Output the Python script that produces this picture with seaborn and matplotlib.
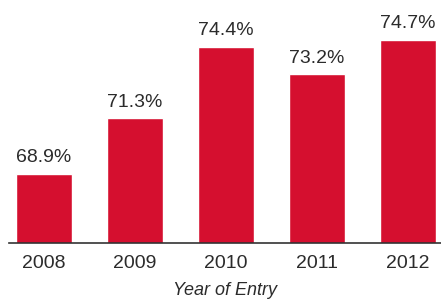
import matplotlib
matplotlib.use("Agg")
import matplotlib.pyplot as plt
import seaborn as sns
import pandas as pd

years = ["2008", "2009", "2010", "2011", "2012"]
rates = [68.9, 71.3, 74.4, 73.2, 74.7]
labels = ["68.9%", "71.3%", "74.4%", "73.2%", "74.7%"]

sns.set_style("white")
plt.rcParams['font.family'] = ['Liberation Sans', 'DejaVu Sans']

df = pd.DataFrame({"year": years, "rate": rates})

fig = plt.figure(figsize=(4.41, 2.99), dpi=100)
ax = fig.add_axes([9/441, 56/299, 432/441, 243/299])
sns.barplot(data=df, x="year", y="rate", color="#d50f2f", saturation=1,
            width=0.615, ax=ax)
for p, lab in zip(ax.patches, labels):
    ax.annotate(lab, (p.get_x() + p.get_width()/2, p.get_height()),
                xytext=(0, 5.5), textcoords="offset points", ha="center",
                va="bottom", fontsize=14, color="#2b2b2b")
ax.set_ylim(65.9, 65.9 + 243/23.1)
ax.set_xlim(-0.385, 4.363)
for s in ["top", "right", "left"]:
    ax.spines[s].set_visible(False)
ax.spines["bottom"].set_color("#333333")
ax.spines["bottom"].set_linewidth(1.2)
ax.set_yticks([])
ax.tick_params(axis="x", length=0, pad=9, labelsize=14, labelcolor="#2b2b2b")
ax.set_ylabel("")
ax.set_xlabel("Year of Entry", fontsize=13, style="italic", color="#2b2b2b", labelpad=7)
fig.savefig("out.png", dpi=100)
